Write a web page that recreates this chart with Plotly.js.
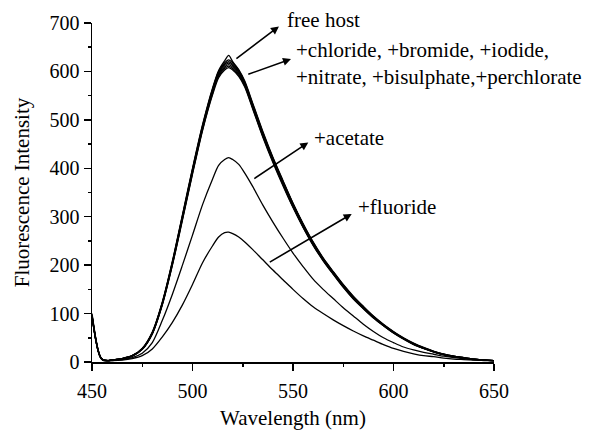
<!DOCTYPE html>
<html>
<head>
<meta charset="utf-8">
<script src="https://cdn.plot.ly/plotly-3.0.1.min.js"></script>
<style>html,body{margin:0;padding:0;background:#fff}#chart{width:589px;height:430px}</style>
</head>
<body>
<div id="chart"></div>
<script>
// Wavelength (nm)
const wavelength = [450,451,452,453,454,455,456,458,460,465,470,475,480,485,490,495,500,505,510,513,516,518,520,523,526,530,535,540,545,550,555,560,565,570,575,580,585,590,595,600,605,610,615,620,625,630,635,640,645,650];

const freeHost    = [100,72,46,26,13,6,4,3,4,7,13,28,62,124,208,304,400,490,566,602,622,633,620,604,580,534,476,423,375,328,286,248,215,187,160,136,115,95,78,63,50,39,30,22,16,12,9,6,4,3];
const chloride    = [98,70,45,25,12,6,4,3,4,7,13,28,61,123,207,302,398,488,564,600,618,624,618,602,578,532,474,421,373,327,285,247,214,186,159,135,114,94,77,62,49,38,29,22,16,12,9,6,4,3];
const bromide     = [97,69,44,25,12,6,4,3,4,7,13,27,60,122,205,300,396,486,562,598,615,620,615,600,576,530,472,420,372,326,284,246,213,185,158,134,113,94,77,62,49,38,29,22,16,12,9,6,4,3];
const iodide      = [96,68,44,24,12,5,4,3,4,7,13,27,60,121,204,299,394,484,560,596,612,617,612,598,574,528,470,418,370,324,282,244,212,184,157,133,112,93,76,61,48,37,28,21,15,11,8,6,4,3];
const nitrate     = [95,68,43,24,11,5,3,3,4,7,12,27,59,120,203,297,392,482,558,593,609,614,609,595,572,526,468,416,368,322,280,243,211,183,156,132,111,92,76,61,48,37,28,21,15,11,8,6,4,3];
const bisulphate  = [94,67,43,23,11,5,3,3,4,6,12,26,58,119,201,295,390,480,555,590,606,611,606,592,570,524,466,414,366,320,279,242,210,182,155,131,111,92,75,60,48,37,28,21,15,11,8,5,4,3];
const perchlorate = [93,66,42,23,11,5,3,3,4,6,12,26,58,118,200,293,388,478,552,587,603,608,603,590,568,522,464,412,364,319,278,241,209,181,154,130,110,91,75,60,47,36,28,21,15,11,8,5,4,3];
const acetate     = [96,68,44,24,12,6,4,3,3,5,9,18,40,86,140,200,262,325,378,406,418,422,418,408,390,362,324,289,256,225,197,171,150,131,112,95,78,63,50,40,31,25,20,16,12,9,7,5,4,3];
const fluoride    = [95,67,43,24,12,6,4,3,3,4,7,13,27,52,82,118,160,205,240,258,267,268,265,258,248,232,211,190,170,150,131,114,100,87,75,64,54,45,36,28,22,17,13,11,8,6,5,4,3,3];

const seriesNames = ["free host","+chloride","+bromide","+iodide","+nitrate","+bisulphate","+perchlorate","+acetate","+fluoride"];
const seriesData  = [freeHost,chloride,bromide,iodide,nitrate,bisulphate,perchlorate,acetate,fluoride];

const xTickVals = [450,500,550,600,650];
const xMinorVals = [475,525,575,625];
const yTickVals = [0,100,200,300,400,500,600,700];
const yMinorVals = [50,150,250,350,450,550,650];

const traces = seriesData.map((ys, i) => ({
  x: wavelength, y: ys, name: seriesNames[i], type: 'scatter', mode: 'lines',
  line: {color: '#000', width: 1.3, shape: 'spline', smoothing: 0.8},
  hoverinfo: 'skip', cliponaxis: true
}));

const serif = "'Liberation Serif', 'Times New Roman', serif";
const arrowStyle = {showarrow: true, arrowhead: 2, arrowsize: 1, arrowwidth: 1.6, arrowcolor: '#000',
  text: '', axref: 'x', ayref: 'y', xref: 'x', yref: 'y', standoff: 0, startstandoff: 0};
const labelFont = {family: serif, size: 21, color: '#000'};

const layout = {
  width: 589, height: 430,
  margin: {l: 92, r: 95, t: 23, b: 68},
  paper_bgcolor: '#fff', plot_bgcolor: '#fff',
  showlegend: false,
  font: {family: serif, size: 20, color: '#000'},
  xaxis: {
    range: [450, 650], tickvals: xTickVals, ticktext: xTickVals.map(String),
    showline: true, linecolor: '#000', linewidth: 1.5, mirror: false,
    ticks: 'outside', ticklen: 7, tickwidth: 1.5, tickcolor: '#000', ticklabelstandoff: 3,
    minor: {ticks: 'outside', ticklen: 3, tickwidth: 1.5, tickcolor: '#000', tickvals: xMinorVals, showgrid: false},
    showgrid: false, zeroline: false,
    tickfont: {family: serif, size: 20, color: '#000'},
    title: {text: 'Wavelength (nm)', font: labelFont, standoff: 15}
  },
  yaxis: {
    range: [0, 700], tickvals: yTickVals, ticktext: yTickVals.map(String),
    showline: true, linecolor: '#000', linewidth: 1.5, mirror: false,
    ticks: 'outside', ticklen: 7, tickwidth: 1.5, tickcolor: '#000',
    minor: {ticks: 'outside', ticklen: 3, tickwidth: 1.5, tickcolor: '#000', tickvals: yMinorVals, showgrid: false},
    showgrid: false, zeroline: false,
    tickfont: {family: serif, size: 20, color: '#000'},
    title: {text: 'Fluorescence Intensity', font: labelFont, standoff: 14}
  },
  annotations: [
    Object.assign({}, arrowStyle, {x: 543.0, y: 693, ax: 521.1, ay: 624}),
    Object.assign({}, arrowStyle, {x: 549.0, y: 625.6, ax: 527.0, ay: 593}),
    Object.assign({}, arrowStyle, {x: 557.6, y: 453.4, ax: 530.0, ay: 376.6}),
    Object.assign({}, arrowStyle, {x: 579.2, y: 305.6, ax: 537.7, ay: 204.4}),
    {xref: 'paper', yref: 'paper', x: 0.480, y: 1.0097, xanchor: 'left', yanchor: 'middle', showarrow: false,
     text: 'free host', font: labelFont},
    {xref: 'paper', yref: 'paper', x: 0.5025, y: 0.880, xanchor: 'left', yanchor: 'middle', align: 'left', showarrow: false,
     text: '+chloride, +bromide, +iodide,<br>+nitrate, +bisulphate,+perchlorate', font: labelFont},
    {xref: 'paper', yref: 'paper', x: 0.547, y: 0.6617, xanchor: 'left', yanchor: 'middle', showarrow: false,
     text: '+acetate', font: labelFont},
    {xref: 'paper', yref: 'paper', x: 0.6565, y: 0.458, xanchor: 'left', yanchor: 'middle', showarrow: false,
     text: '+fluoride', font: labelFont}
  ]
};

Plotly.newPlot('chart', traces, layout, {displayModeBar: false, staticPlot: true});
</script>
</body>
</html>
